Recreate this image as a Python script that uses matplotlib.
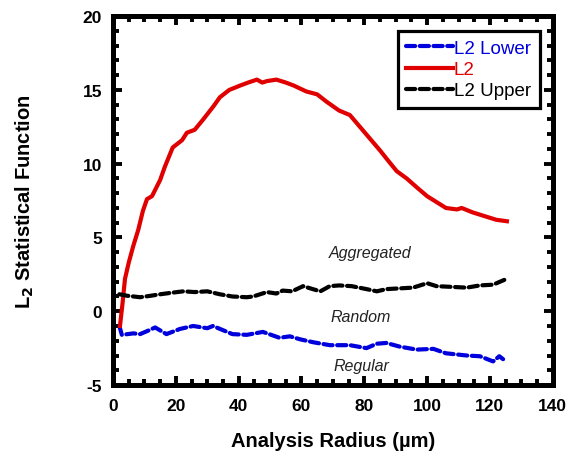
import matplotlib
matplotlib.use("Agg")
import matplotlib.pyplot as plt
from matplotlib.ticker import MultipleLocator

plt.rcParams['font.family'] = ['Liberation Sans', 'DejaVu Sans']
plt.rcParams['axes.unicode_minus'] = False

# L2 (observed)
l2_x = [2.2, 3.0, 3.8, 5.0, 6.4, 8.0, 9.5, 10.8, 12.4, 15.0, 16.5, 19.0, 22.0, 23.5, 26.0,
        28.7, 32.0, 34.0, 37.0, 40.5, 43.0, 45.8, 47.5, 49.0, 52.0, 55.0, 57.5, 61.5, 65.0,
        68.0, 72.0, 75.4, 78.6, 81.8, 85.0, 88.0, 90.3, 93.5, 96.7, 100.0, 103.0, 106.0,
        109.5, 111.0, 114.5, 119.0, 122.0, 125.4]
l2_y = [-1.0, 0.5, 2.2, 3.3, 4.4, 5.5, 6.8, 7.6, 7.8, 8.9, 9.8, 11.1, 11.6, 12.1, 12.3,
        13.0, 13.9, 14.5, 15.0, 15.3, 15.5, 15.7, 15.5, 15.6, 15.7, 15.5, 15.3, 14.9, 14.7,
        14.2, 13.6, 13.3, 12.5, 11.7, 10.9, 10.1, 9.5, 9.0, 8.4, 7.8, 7.4, 7.0,
        6.9, 7.0, 6.7, 6.4, 6.2, 6.1]

# L2 Upper envelope
up_x = [2.0, 4.5, 8.6, 12.0, 15.0, 18.5, 22.4, 26.0, 30.0, 34.0, 38.0, 42.6, 44.6, 49.0,
        52.0, 54.0, 57.0, 60.5, 63.6, 66.0, 69.0, 72.0, 76.0, 80.7, 84.0, 87.0, 91.3,
        95.5, 100.0, 103.0, 108.0, 112.6, 116.8, 121.0, 125.4]
up_y = [1.15, 1.05, 0.95, 1.05, 1.15, 1.25, 1.35, 1.3, 1.35, 1.15, 1.0, 0.95, 1.0, 1.3,
        1.2, 1.4, 1.35, 1.7, 1.5, 1.35, 1.7, 1.75, 1.7, 1.5, 1.35, 1.5, 1.55,
        1.6, 1.9, 1.7, 1.65, 1.6, 1.75, 1.8, 2.2]

# L2 Lower envelope
lo_x = [2.0, 2.8, 6.5, 8.6, 10.8, 13.4, 17.0, 21.3, 25.5, 30.0, 31.8, 38.0, 42.6, 47.7,
        53.0, 56.3, 59.5, 63.7, 69.0, 75.4, 80.7, 84.0, 87.0, 91.3, 96.7, 102.0, 106.0,
        112.6, 116.8, 121.0, 123.0, 124.2]
lo_y = [-1.0, -1.6, -1.5, -1.55, -1.35, -1.1, -1.55, -1.2, -1.0, -1.15, -1.0, -1.55, -1.6,
        -1.4, -1.8, -1.7, -1.9, -2.1, -2.3, -2.3, -2.5, -2.2, -2.15, -2.4, -2.6, -2.55,
        -2.85, -3.0, -3.05, -3.4, -3.05, -3.25]

annotations = ["Aggregated", "Random", "Regular"]
ann_x = [81.8, 79.0, 79.2]
ann_y = [4.0, -0.35, -3.7]

BLUE = '#0000dd'
RED = '#e00000'
BLACK = '#000000'

fig = plt.figure(figsize=(5.71, 4.52), dpi=100)
ax = fig.add_axes([0.198, 0.146, 0.770, 0.816])

ax.plot(lo_x, lo_y, color=BLUE, lw=3, ls=(0, (2.2, 1.1)), dash_capstyle='round', label='L2 Lower')
ax.plot(l2_x, l2_y, color=RED, lw=3, ls='-', label='L2')
ax.plot(up_x, up_y, color=BLACK, lw=3, ls=(0, (2.2, 1.1)), dash_capstyle='round', label='L2 Upper')

for t, x, y in zip(annotations, ann_x, ann_y):
    ax.text(x, y, t, fontsize=11.5, style='italic', ha='center', va='center', color='#222222')

ax.set_xlim(0, 140)
ax.set_ylim(-5, 20)
ax.xaxis.set_major_locator(MultipleLocator(20))
ax.xaxis.set_minor_locator(MultipleLocator(5))
ax.yaxis.set_major_locator(MultipleLocator(5))
ax.yaxis.set_minor_locator(MultipleLocator(1))

for s in ax.spines.values():
    s.set_linewidth(3.6)
ax.tick_params(which='both', direction='in', top=True, right=True, width=2.8)
ax.tick_params(which='major', length=6.8)
ax.tick_params(which='minor', length=4)
ax.tick_params(axis='x', which='major', pad=9)
ax.tick_params(axis='y', which='major', pad=8)
for lab in ax.get_xticklabels() + ax.get_yticklabels():
    lab.set_fontweight('bold')
    lab.set_fontsize(12.5)

ax.set_xlabel('Analysis Radius (\u00b5m)', fontsize=14.5, fontweight='bold')
ax.set_ylabel('L$_\\mathbf{2}$ Statistical Function', fontsize=14.5, fontweight='bold')
ax.xaxis.set_label_coords(0.5, -0.125)
ax.yaxis.set_label_coords(-0.175, 0.5)

leg = ax.legend(loc='upper right', bbox_to_anchor=(0.970, 0.959), fontsize=13.5, handlelength=2.5,
                handletextpad=0.05, labelspacing=0.22, borderpad=0.45, fancybox=False,
                framealpha=1, edgecolor='black', borderaxespad=0)
leg.get_frame().set_linewidth(2.3)
for txt, c in zip(leg.get_texts(), [BLUE, RED, BLACK]):
    txt.set_color(c)

fig.savefig('out.png', dpi=100)
